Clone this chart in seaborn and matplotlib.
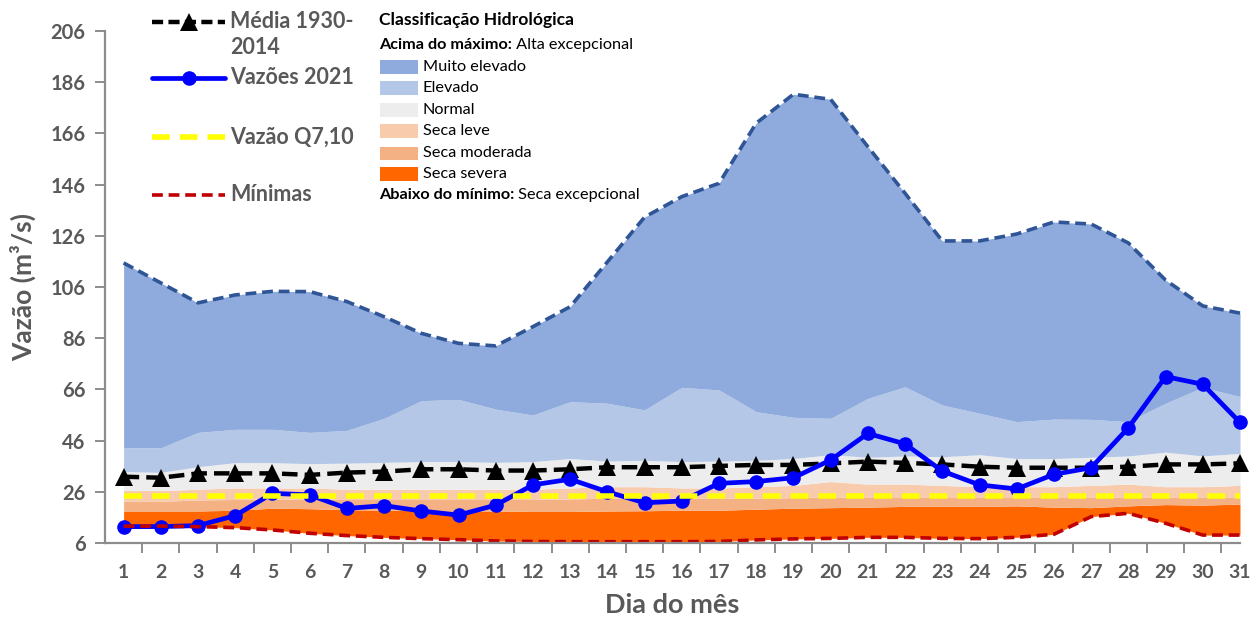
import matplotlib
matplotlib.use("Agg")
import matplotlib.pyplot as plt
from matplotlib.lines import Line2D
from matplotlib.patches import Rectangle
import seaborn as sns
import pandas as pd

# ---------------- data ----------------
dias = [1, 2, 3, 4, 5, 6, 7, 8, 9, 10, 11, 12, 13, 14, 15, 16,
        17, 18, 19, 20, 21, 22, 23, 24, 25, 26, 27, 28, 29, 30, 31]

maximo = [115.4, 107.6, 99.8, 102.9, 104.3, 104.2, 100.3, 94.4, 87.9, 84.0,
          83.0, 90.5, 98.3, 115.8, 133.3, 141.3, 146.5, 170.0, 181.3, 179.3,
          160.8, 142.6, 124.0, 124.0, 126.7, 131.4, 130.6, 123.2, 108.7, 98.6, 95.8]

elevado_sup = [43.2, 43.2, 49.2, 50.4, 50.4, 49.2, 50.0, 54.7, 61.6, 62.1,
               58.3, 56.0, 61.2, 60.6, 58.0, 66.8, 65.8, 57.3, 55.1, 54.7,
               62.5, 67.0, 59.9, 56.7, 53.4, 54.4, 54.3, 53.4, 60.6, 66.8, 63.2]

normal_sup = [33.9, 33.6, 35.8, 37.4, 37.4, 37.0, 37.2, 37.5, 37.8, 37.8,
              37.5, 37.8, 39.0, 38.0, 38.3, 37.8, 38.0, 38.3, 39.0, 40.5,
              39.5, 40.0, 39.7, 40.5, 39.0, 39.0, 39.5, 40.0, 41.5, 40.0, 41.0]

leve_sup = [26.5, 26.5, 27.0, 27.5, 27.5, 27.5, 27.0, 27.0, 27.0, 27.0,
            27.0, 27.0, 27.5, 28.0, 28.0, 27.5, 27.5, 28.0, 28.5, 30.0,
            29.0, 29.0, 28.5, 28.0, 28.0, 28.0, 28.5, 29.0, 28.0, 28.0, 28.5]

moderada_sup = [22.3, 22.3, 22.8, 23.0, 23.2, 23.2, 23.0, 23.0, 23.0, 23.0,
                23.0, 23.0, 23.2, 23.5, 23.5, 23.5, 23.5, 23.5, 23.7, 24.0,
                23.8, 23.8, 23.8, 23.8, 23.8, 23.8, 23.8, 24.0, 24.0, 24.0, 24.0]

severa_sup = [18.5, 18.5, 18.5, 18.8, 19.6, 19.4, 19.0, 18.8, 18.6, 18.5,
              18.5, 18.3, 18.3, 18.5, 18.6, 18.8, 18.8, 19.2, 19.6, 19.8,
              20.0, 20.3, 20.3, 20.3, 20.5, 20.0, 19.8, 20.5, 21.0, 20.8, 21.2]

minimas = [12.6, 12.6, 12.4, 12.0, 11.1, 9.8, 8.9, 8.2, 7.7, 7.3,
           6.8, 6.6, 6.5, 6.5, 6.5, 6.5, 6.6, 7.2, 7.6, 7.8,
           8.2, 8.2, 7.8, 7.7, 8.2, 9.4, 16.3, 17.6, 13.7, 9.1, 9.1]

media = [31.9, 31.5, 33.2, 33.2, 33.2, 32.6, 33.5, 33.9, 34.8, 34.8,
         34.3, 34.3, 34.8, 35.6, 35.6, 35.6, 36.1, 36.5, 36.5, 37.1,
         37.8, 37.3, 36.7, 35.8, 35.4, 35.4, 35.4, 35.8, 36.7, 36.7, 37.1]

vazoes = [12.4, 12.4, 12.8, 16.7, 25.4, 24.8, 19.5, 20.6, 18.5, 16.9,
          20.8, 28.7, 30.9, 26.0, 21.7, 22.4, 29.3, 30.0, 31.5, 38.4,
          48.8, 44.7, 34.1, 28.7, 27.1, 32.8, 35.4, 51.0, 71.0, 68.0, 53.1]

q710 = [24.5, 24.5, 24.5, 24.5, 24.5, 24.5, 24.5, 24.5, 24.5, 24.5,
        24.5, 24.5, 24.5, 24.5, 24.5, 24.5, 24.5, 24.5, 24.5, 24.5,
        24.5, 24.5, 24.5, 24.5, 24.5, 24.5, 24.5, 24.5, 24.5, 24.5, 24.5]

y_ticks = [6, 26, 46, 66, 86, 106, 126, 146, 166, 186, 206]

classes = ["Muito elevado", "Elevado", "Normal", "Seca leve", "Seca moderada", "Seca severa"]

# ---------------- style ----------------
sns.set_theme(style="white")
plt.rcParams["font.family"] = ["Lato", "DejaVu Sans"]

GRAY = "#595959"
AXC = "#8C8C8C"
C_MUITO = "#8FAADC"
C_ELEV = "#B4C7E7"
C_NORM = "#EDEDED"
C_LEVE = "#F8CBAD"
C_MOD = "#F4B183"
C_SEV = "#FF6600"

df = pd.DataFrame({"dia": dias, "maximo": maximo, "elevado": elevado_sup,
                   "normal": normal_sup, "leve": leve_sup, "moderada": moderada_sup,
                   "severa": severa_sup, "minimas": minimas, "media": media,
                   "vazoes": vazoes, "q710": q710})

W, H = 1252, 620
fig = plt.figure(figsize=(W / 100, H / 100), dpi=100)
ax = fig.add_axes([105 / W, 1 - 543 / H, (1240 - 105) / W, (543 - 31) / H])

# bands
ax.fill_between(df["dia"], df["minimas"], df["severa"], color=C_SEV, lw=0, zorder=1)
ax.fill_between(df["dia"], df["severa"], df["moderada"], color=C_MOD, lw=0, zorder=1)
ax.fill_between(df["dia"], df["moderada"], df["leve"], color=C_LEVE, lw=0, zorder=1)
ax.fill_between(df["dia"], df["leve"], df["normal"], color=C_NORM, lw=0, zorder=1)
ax.fill_between(df["dia"], df["normal"], df["elevado"], color=C_ELEV, lw=0, zorder=1)
ax.fill_between(df["dia"], df["elevado"], df["maximo"], color=C_MUITO, lw=0, zorder=1)

# lines
sns.lineplot(data=df, x="dia", y="maximo", ax=ax, color="#2F5597", lw=2.6,
             linestyle=(0, (3, 1.6)), zorder=3, clip_on=False)
sns.lineplot(data=df, x="dia", y="media", ax=ax, color="black", lw=3.2,
             linestyle=(0, (3.5, 1.6)), marker="^", markersize=13,
             markeredgewidth=0, zorder=4, clip_on=False)
sns.lineplot(data=df, x="dia", y="vazoes", ax=ax, color="#0000FF", lw=3.4,
             marker="o", markersize=10.5, markeredgewidth=0, zorder=5, clip_on=False)
sns.lineplot(data=df, x="dia", y="q710", ax=ax, color="#FFFF00", lw=4.0,
             linestyle=(0, (3.2, 1.8)), zorder=6, clip_on=False)
sns.lineplot(data=df, x="dia", y="minimas", ax=ax, color="#C00000", lw=2.6,
             linestyle=(0, (3, 1.6)), zorder=7, clip_on=False)

# axes
ax.set_xlim(0.5, 31)
ax.set_ylim(y_ticks[0], y_ticks[-1])
ax.set_yticks(y_ticks)
ax.set_xticks(dias)
ax.set_xticks([d + 0.5 for d in dias[:-1]], minor=True)
for s in ["top", "right"]:
    ax.spines[s].set_visible(False)
for s in ["left", "bottom"]:
    ax.spines[s].set_color(AXC)
    ax.spines[s].set_linewidth(1.6)
    ax.spines[s].set_zorder(8)
ax.tick_params(axis="y", which="major", direction="out", length=7, width=1.4,
               color=AXC, labelsize=14.5, labelcolor=GRAY, pad=7, left=True)
ax.tick_params(axis="x", which="major", length=0, labelsize=14,
               labelcolor=GRAY, pad=15)
ax.tick_params(axis="x", which="minor", direction="out", length=7, width=1.4,
               color=AXC, bottom=True)
for lab in ax.get_xticklabels() + ax.get_yticklabels():
    lab.set_fontweight("bold")
ax.set_xlabel("Dia do mês", fontsize=19.5, fontweight="bold", color=GRAY, labelpad=9)
ax.set_ylabel("Vazão (m³/s)", fontsize=19, fontweight="bold", color=GRAY, labelpad=10)
ax.grid(False)
ax.set_facecolor("white")

# ---------------- legend (series) ----------------
def fx(px):
    return px / W

def fy(py):
    return 1 - py / H

hx0, hx1, tx = 152, 225, 230
LFS = 15.5
entries = [
    (22, dict(color="black", lw=3.2, linestyle=(0, (2.5, 1.2))), dict(marker="^", markersize=13, color="black")),
    (78, dict(color="#0000FF", lw=3.4), dict(marker="o", markersize=10.5, color="#0000FF")),
    (137, dict(color="#FFFF00", lw=4.0, linestyle=(0, (3.2, 1.8))), None),
    (195, dict(color="#C00000", lw=2.6, linestyle=(0, (3, 1.6))), None),
]
for y, lkw, mkw in entries:
    fig.add_artist(Line2D([fx(hx0), fx(hx1)], [fy(y), fy(y)], transform=fig.transFigure, **lkw))
    if mkw:
        fig.add_artist(Line2D([fx((hx0 + hx1) / 2)], [fy(y)], transform=fig.transFigure,
                              linestyle="none", markeredgewidth=0, **mkw))
fig.text(fx(tx), fy(11), "Média 1930-\n2014", fontsize=LFS, fontweight="bold",
         color=GRAY, va="top", ha="left", linespacing=1.3)
fig.text(fx(tx), fy(78), "Vazões 2021", fontsize=LFS, fontweight="bold", color=GRAY, va="center")
fig.text(fx(tx), fy(137), "Vazão Q7,10", fontsize=LFS, fontweight="bold", color=GRAY, va="center")
fig.text(fx(tx), fy(195), "Mínimas", fontsize=LFS, fontweight="bold", color=GRAY, va="center")

# ---------------- legend (classes) ----------------
CFS = 11.7
cx = 379
fig.text(fx(cx), fy(20), "Classificação Hidrológica", fontsize=12.6,
         fontweight="bold", color="black", va="center")
t1 = fig.text(fx(cx), fy(45), "Acima do máximo:", fontsize=CFS, fontweight="bold",
              color="black", va="center")
row_y = [67, 88, 110, 131, 153, 174]
cols = [C_MUITO, C_ELEV, C_NORM, C_LEVE, C_MOD, C_SEV]
for y, c, name in zip(row_y, cols, classes):
    fig.add_artist(Rectangle((fx(cx + 1), fy(y + 6.5)), fx(38), 13 / H, transform=fig.transFigure,
                             facecolor=c, edgecolor="none"))
    fig.text(fx(cx + 44), fy(y), name, fontsize=CFS, color="black", va="center")
t2 = fig.text(fx(cx), fy(195), "Abaixo do mínimo:", fontsize=CFS, fontweight="bold",
              color="black", va="center")

# place the regular-weight continuations right after the bold prefixes
fig.canvas.draw()
r = fig.canvas.get_renderer()
for t, s in [(t1, " Alta excepcional"), (t2, " Seca excepcional")]:
    bb = t.get_window_extent(r)
    fig.text(bb.x1 / W, t.get_position()[1], s, fontsize=CFS, color="black", va="center")

fig.savefig("out.png", dpi=100, facecolor="white")
